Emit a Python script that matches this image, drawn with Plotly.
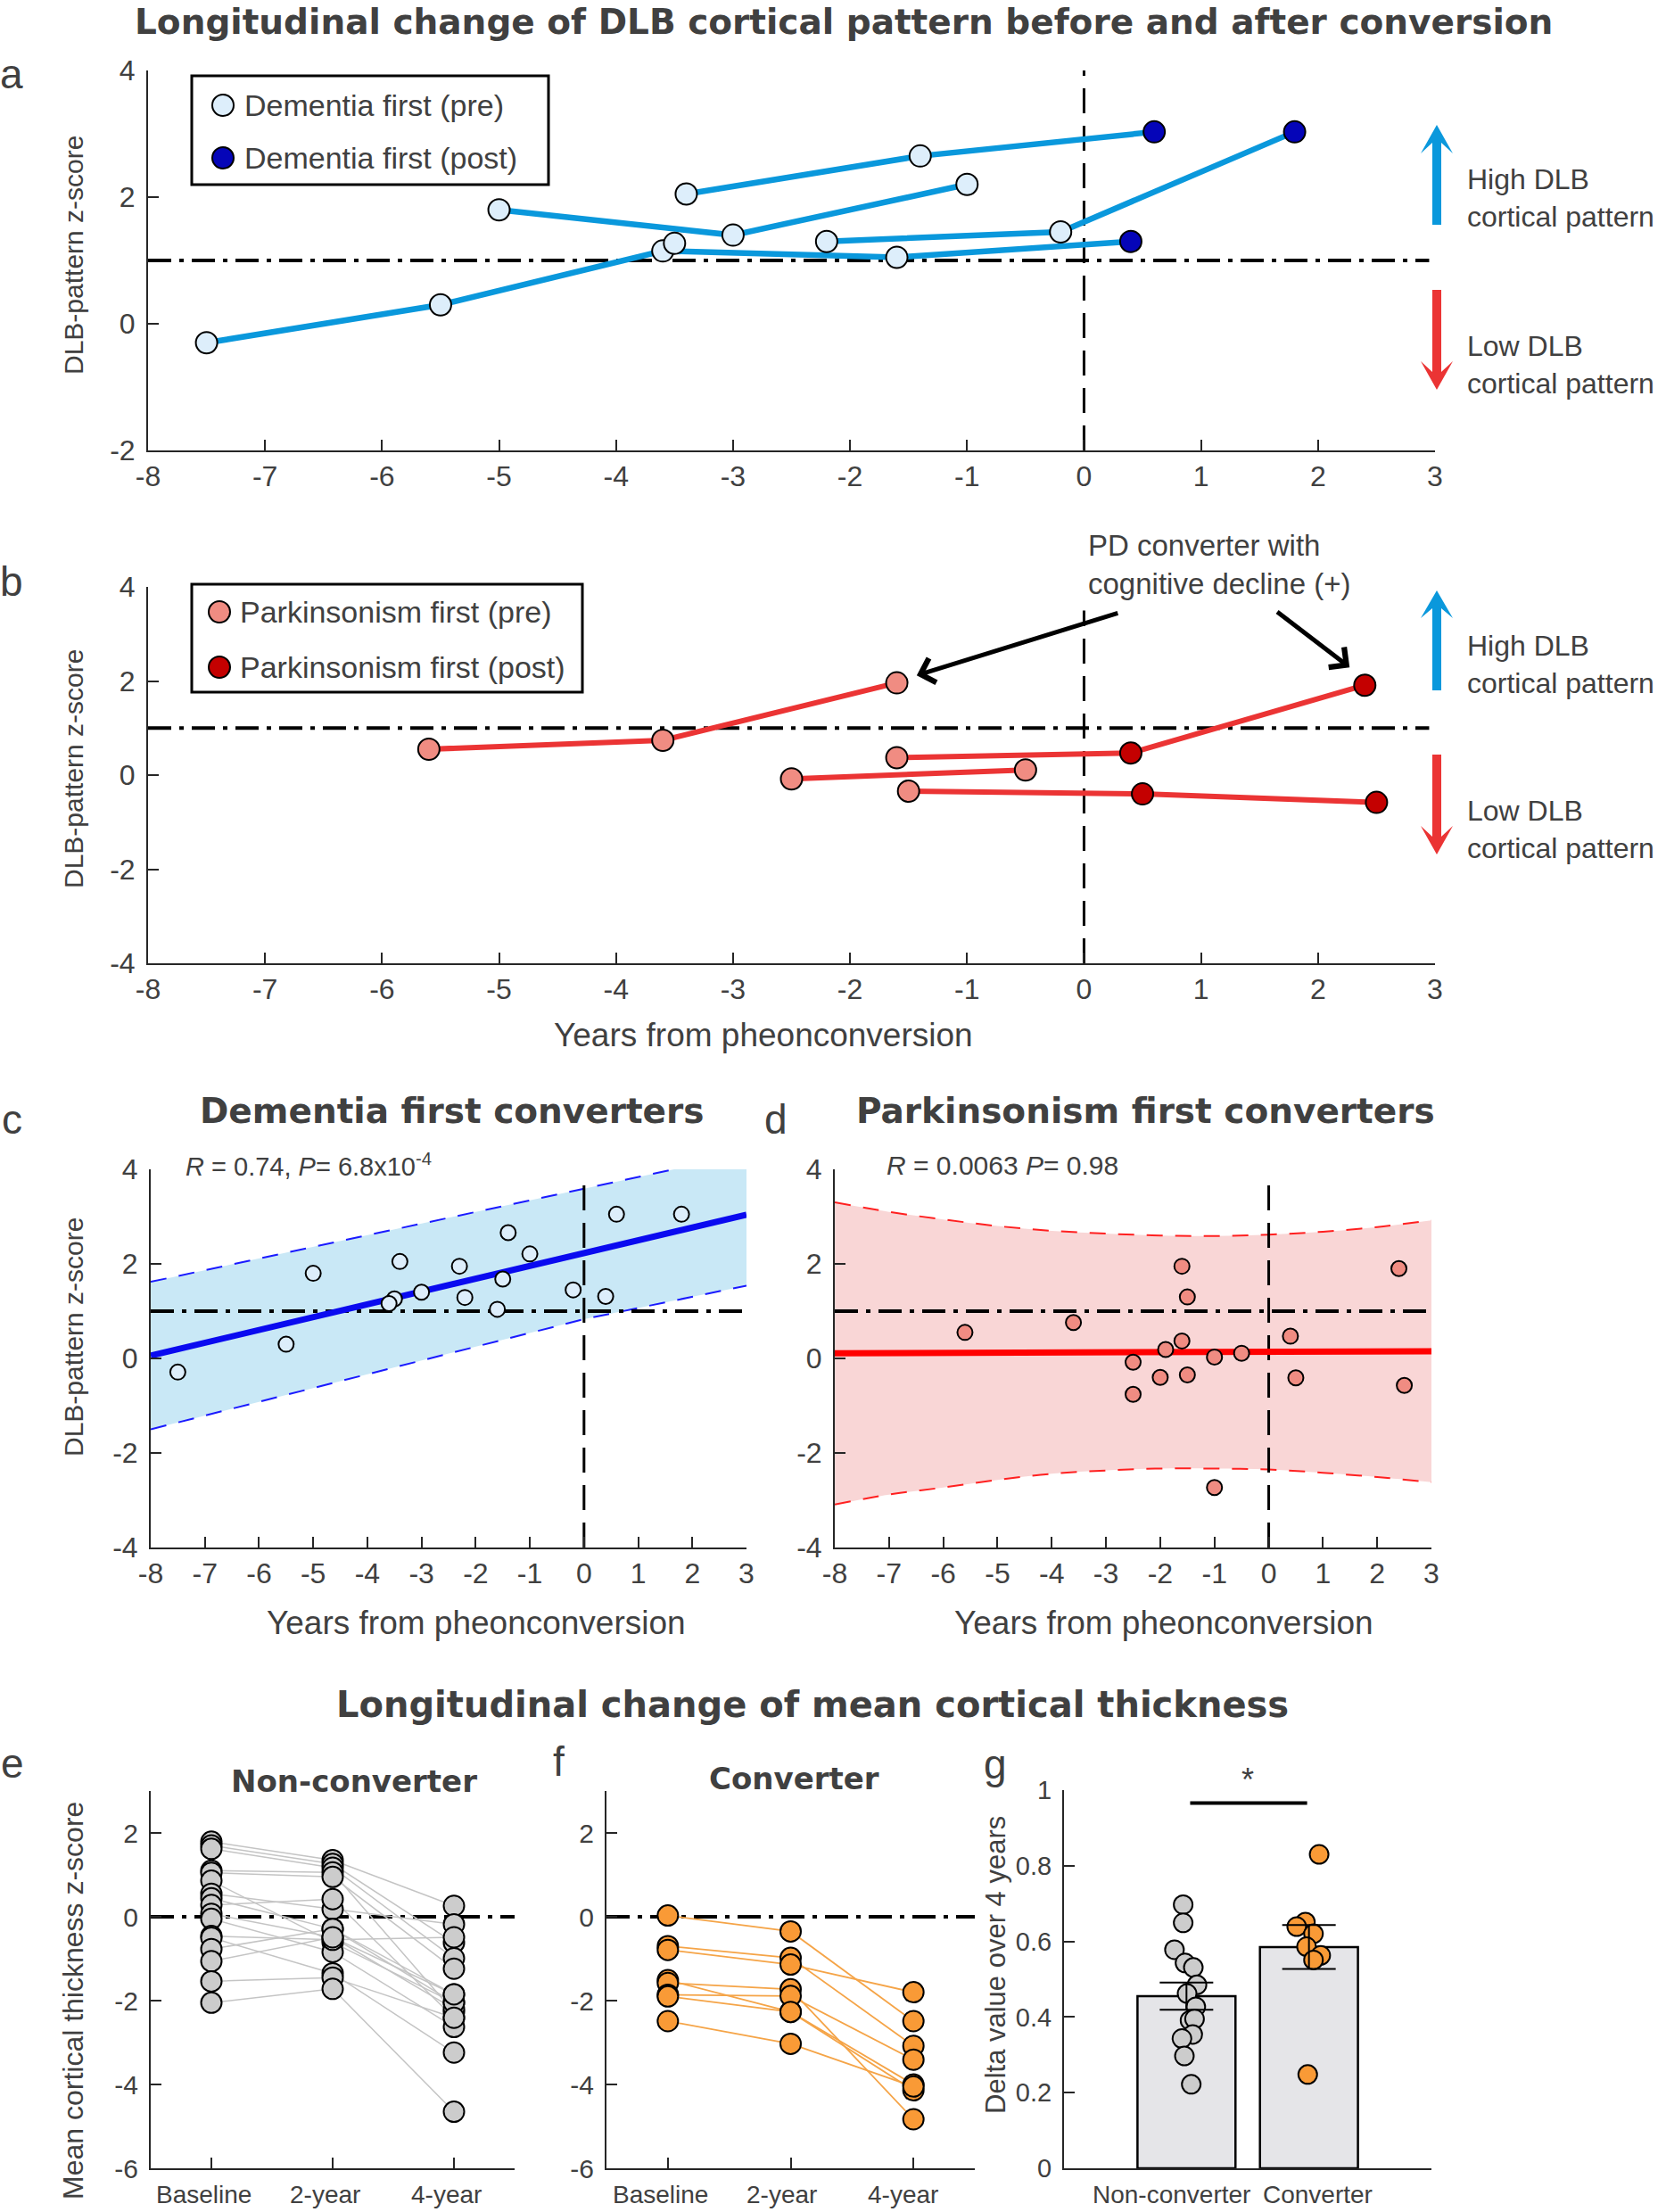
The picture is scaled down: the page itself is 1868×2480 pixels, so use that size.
import plotly.graph_objects as go

# ======================= DATA =======================
# Panel a - Dementia-first converters: trajectories (years from conversion, DLB-pattern z-score)
a_traj_x = [[-7.5, -5.5, -3.6, -1.6, 0.4], [-3.4, -1.4, 0.6], [-5.0, -3.0, -1.0], [-2.2, -0.2, 1.8], [-3.5]]
a_traj_y = [[-0.30, 0.30, 1.15, 1.05, 1.30], [2.05, 2.65, 3.03], [1.80, 1.40, 2.20], [1.30, 1.45, 3.03], [1.27]]

# Panel b - Parkinsonism-first converters
b_traj_x = [[-5.6, -3.6, -1.6], [-1.6, 0.4, 2.4], [-2.5, -0.5], [-1.5, 0.5, 2.5]]
b_traj_y = [[0.55, 0.74, 1.96], [0.37, 0.47, 1.91], [-0.08, 0.11], [-0.34, -0.40, -0.58]]

# Panel c - scatter + fit
c_x = [-7.5, -5.5, -5.0, -3.5, -3.6, -3.4, -3.0, -2.3, -2.2, -1.6, -1.5, -1.4, -1.0, -0.2, 0.4, 0.6, 1.8]
c_y = [-0.29, 0.30, 1.80, 1.26, 1.16, 2.05, 1.40, 1.95, 1.29, 1.04, 1.68, 2.66, 2.21, 1.45, 1.31, 3.05, 3.05]
c_fit_x = [-8, 3]
c_fit_y = [0.06, 3.04]
c_band_x = [-8, -4, 0, 3]
c_band_hi = [1.62, 2.60, 3.59, 4.33]
c_band_lo = [-1.50, -0.33, 0.83, 1.54]

# Panel d - scatter + fit
d_x = [-5.6, -3.6, -1.6, -1.5, -1.6, -1.9, -2.5, -2.5, -2.0, -1.5, -1.0, -0.5, -1.0, 0.4, 0.5, 2.4, 2.5]
d_y = [0.55, 0.76, 1.95, 1.30, 0.37, 0.19, -0.08, -0.76, -0.40, -0.35, 0.03, 0.11, -2.73, 0.47, -0.41, 1.90, -0.57]
d_fit_x = [-8, 3]
d_fit_y = [0.11, 0.15]
d_band_x = [-8, -7, -6, -5, -4, -3, -2, -1, 0, 1, 2, 3]
d_band_hi = [3.30, 3.10, 2.94, 2.80, 2.70, 2.64, 2.60, 2.59, 2.62, 2.68, 2.78, 2.92]
d_band_lo = [-3.09, -2.88, -2.73, -2.57, -2.44, -2.37, -2.33, -2.33, -2.35, -2.42, -2.51, -2.62]

threshold = 1.0  # DLB-pattern cut-off

# Panel e / f - mean cortical thickness z-score
timepoints = ["Baseline", "2-year", "4-year"]
e_base = [1.79, 1.70, 1.62, 1.10, 1.05, 0.86, 0.55, 0.44, 0.28, 0.07, -0.05, -0.46, -0.50, -0.77, -1.06, -1.54, -2.05]
e_2yr = [1.35, 1.26, 1.17, 1.06, 0.95, -0.61, 0.18, -0.29, 0.42, -0.49, -0.84, -0.55, -1.35, -0.29, -0.49, -1.45, -1.72]
e_4yr = [0.26, -0.62, -0.99, -2.27, -1.24, -2.05, -0.18, -1.85, -2.41, -2.20, -2.63, -0.49, -3.24, -2.05, -1.85, -2.41, -4.65]

f_base = [0.03, -0.70, -0.79, -1.51, -1.58, -1.86, -1.90, -2.49]
f_2yr = [-0.35, -0.98, -1.14, -2.27, -1.73, -1.89, -2.27, -3.03]
f_4yr = [-2.49, -3.08, -1.80, -4.00, -4.83, -3.41, -4.14, -4.05]

# Panel g - delta over 4 years
g_groups = ["Non-converter", "Converter"]
g_means = [0.455, 0.585]
g_sem = [0.036, 0.058]
g_nc_vals = [0.697, 0.649, 0.578, 0.543, 0.531, 0.485, 0.462, 0.427, 0.391, 0.395, 0.354, 0.343, 0.297, 0.222]
g_nc_jit = [-0.027, -0.027, -0.098, -0.012, 0.056, 0.086, 0.005, 0.076, 0.029, 0.066, 0.051, -0.037, -0.017, 0.039]
g_c_vals = [0.830, 0.651, 0.639, 0.620, 0.586, 0.563, 0.551, 0.248]
g_c_jit = [0.083, -0.029, -0.100, 0.037, -0.020, 0.096, 0.037, -0.010]
g_sig_y = 0.966

# ======================= STYLE =======================
W, H = 1868, 2480
FONT = "Liberation Sans"
BFONT = "DejaVu Sans"
TXT = "#404040"
AXC = "#262626"

DEM_LINE = "#0A98DC"
DEM_PRE = "#DDEEFB"
DEM_POST = "#0505B8"
PK_LINE = "#EB3434"
PK_PRE = "#F08C82"
PK_POST = "#C40000"
NC_GRAY = "#CCCCCC"
CONV_OR = "#F99A36"


def fx(px):
    return px / W


def fy(py):
    return 1 - py / H


fig = go.Figure()


def ax_common(size):
    return dict(showline=True, linecolor=AXC, linewidth=2, ticks="inside", ticklen=12,
                tickwidth=2, tickcolor=AXC, showgrid=False, zeroline=False, mirror=False,
                automargin=False, fixedrange=True,
                tickfont=dict(family=FONT, size=size, color=TXT))


yr_ticks = [-8, -7, -6, -5, -4, -3, -2, -1, 0, 1, 2, 3]
panels = {
    1: dict(xp=(166, 1609), yp=(79, 505), xr=[-8, 3], yr=[-2, 4], xt=yr_ticks, yt=[-2, 0, 2, 4], fs=32),
    2: dict(xp=(166, 1609), yp=(658, 1080), xr=[-8, 3], yr=[-4, 4], xt=yr_ticks, yt=[-4, -2, 0, 2, 4], fs=32),
    3: dict(xp=(169, 837), yp=(1311, 1735), xr=[-8, 3], yr=[-4, 4], xt=yr_ticks, yt=[-4, -2, 0, 2, 4], fs=32),
    4: dict(xp=(936, 1605), yp=(1311, 1735), xr=[-8, 3], yr=[-4, 4], xt=yr_ticks, yt=[-4, -2, 0, 2, 4], fs=32),
    5: dict(xp=(169, 577), yp=(2008, 2431), xr=[0.5, 3.5], yr=[-6, 3], xt=[1, 2, 3], yt=[-6, -4, -2, 0, 2], fs=30,
            xlab=timepoints),
    6: dict(xp=(680, 1093), yp=(2008, 2431), xr=[0.5, 3.5], yr=[-6, 3], xt=[1, 2, 3], yt=[-6, -4, -2, 0, 2], fs=30,
            xlab=timepoints),
    7: dict(xp=(1193, 1605), yp=(2007, 2431), xr=[0, 3], yr=[0, 1], xt=[1, 2], yt=[0, 0.2, 0.4, 0.6, 0.8, 1], fs=29,
            xlab=g_groups, ytt=["0", "0.2", "0.4", "0.6", "0.8", "1"]),
}

layout_axes = {}
for i, p in panels.items():
    xn = "xaxis" if i == 1 else f"xaxis{i}"
    yn = "yaxis" if i == 1 else f"yaxis{i}"
    xa = ax_common(p["fs"])
    xa.update(domain=[fx(p["xp"][0]), fx(p["xp"][1])], range=p["xr"], anchor="y" if i == 1 else f"y{i}",
              tickmode="array", tickvals=p["xt"], ticktext=[str(v) for v in p["xt"]],
              ticklabelstandoff=0, tickangle=0)
    if "xlab" in p:
        xa.update(showticklabels=False)
    ya = ax_common(p["fs"])
    ya.update(domain=[fy(p["yp"][1]), fy(p["yp"][0])], range=p["yr"], anchor="x" if i == 1 else f"x{i}",
              tickmode="array", tickvals=p["yt"], ticktext=p.get("ytt", [str(v) for v in p["yt"]]),
              ticklabelstandoff=6)
    if i == 7:
        xa.update(ticks="")
    layout_axes[xn] = xa
    layout_axes[yn] = ya


def ref(i):
    return ("x" if i == 1 else f"x{i}", "y" if i == 1 else f"y{i}")


DASHDOT = "26px,9px,5px,9px"
VDASH = "28px,14px"


def hline(i, y, x0, x1):
    xr, yr = ref(i)
    fig.add_trace(go.Scatter(x=[x0, x1], y=[y, y], mode="lines", xaxis=xr, yaxis=yr,
                             line=dict(color="black", width=4, dash=DASHDOT), hoverinfo="skip"))


def vline(i, x, y0, y1):
    xr, yr = ref(i)
    fig.add_trace(go.Scatter(x=[x, x], y=[y0, y1], mode="lines", xaxis=xr, yaxis=yr,
                             line=dict(color="black", width=3, dash=VDASH), hoverinfo="skip"))


# ---------------- Panel a ----------------
hline(1, threshold, -8, 2.95)
vline(1, 0, -2, 4)
for tx, ty in zip(a_traj_x, a_traj_y):
    fig.add_trace(go.Scatter(x=tx, y=ty, mode="lines", line=dict(color=DEM_LINE, width=6.5),
                             xaxis="x", yaxis="y", hoverinfo="skip"))
a_all = [(x, y) for tx, ty in zip(a_traj_x, a_traj_y) for x, y in zip(tx, ty)]
fig.add_trace(go.Scatter(x=[p[0] for p in a_all if p[0] < 0], y=[p[1] for p in a_all if p[0] < 0],
                         mode="markers", xaxis="x", yaxis="y",
                         marker=dict(size=24, color=DEM_PRE, line=dict(color="black", width=2))))
fig.add_trace(go.Scatter(x=[p[0] for p in a_all if p[0] >= 0], y=[p[1] for p in a_all if p[0] >= 0],
                         mode="markers", xaxis="x", yaxis="y",
                         marker=dict(size=24, color=DEM_POST, line=dict(color="black", width=2))))

# ---------------- Panel b ----------------
hline(2, threshold, -8, 2.95)
vline(2, 0, -4, 3.5)
for tx, ty in zip(b_traj_x, b_traj_y):
    fig.add_trace(go.Scatter(x=tx, y=ty, mode="lines", line=dict(color=PK_LINE, width=6),
                             xaxis="x2", yaxis="y2", hoverinfo="skip"))
b_all = [(x, y) for tx, ty in zip(b_traj_x, b_traj_y) for x, y in zip(tx, ty)]
fig.add_trace(go.Scatter(x=[p[0] for p in b_all if p[0] < 0], y=[p[1] for p in b_all if p[0] < 0],
                         mode="markers", xaxis="x2", yaxis="y2",
                         marker=dict(size=24, color=PK_PRE, line=dict(color="black", width=2))))
fig.add_trace(go.Scatter(x=[p[0] for p in b_all if p[0] >= 0], y=[p[1] for p in b_all if p[0] >= 0],
                         mode="markers", xaxis="x2", yaxis="y2",
                         marker=dict(size=24, color=PK_POST, line=dict(color="black", width=2))))

# ---------------- Panel c ----------------
fig.add_trace(go.Scatter(x=c_band_x, y=c_band_lo, mode="lines", xaxis="x3", yaxis="y3",
                         line=dict(color="#1a1aff", width=2, dash="18px,14px"), hoverinfo="skip"))
fig.add_trace(go.Scatter(x=c_band_x, y=c_band_hi, mode="lines", xaxis="x3", yaxis="y3", fill="tonexty",
                         fillcolor="#C9E8F6", line=dict(color="#1a1aff", width=2, dash="18px,14px"),
                         hoverinfo="skip"))
hline(3, threshold, -8, 2.95)
vline(3, 0, -4, 3.8)
fig.add_trace(go.Scatter(x=c_fit_x, y=c_fit_y, mode="lines", xaxis="x3", yaxis="y3",
                         line=dict(color="#0A0AF0", width=7), hoverinfo="skip"))
fig.add_trace(go.Scatter(x=c_x, y=c_y, mode="markers", xaxis="x3", yaxis="y3",
                         marker=dict(size=17, color=DEM_PRE, line=dict(color="black", width=2))))

# ---------------- Panel d ----------------
fig.add_trace(go.Scatter(x=d_band_x, y=d_band_lo, mode="lines", xaxis="x4", yaxis="y4",
                         line=dict(color="#FF2020", width=2, dash="18px,14px"), hoverinfo="skip",
                         line_shape="spline"))
fig.add_trace(go.Scatter(x=d_band_x, y=d_band_hi, mode="lines", xaxis="x4", yaxis="y4", fill="tonexty",
                         fillcolor="#F9D6D6", line=dict(color="#FF2020", width=2, dash="18px,14px"),
                         hoverinfo="skip", line_shape="spline"))
hline(4, threshold, -8, 2.95)
vline(4, 0, -4, 3.7)
fig.add_trace(go.Scatter(x=d_fit_x, y=d_fit_y, mode="lines", xaxis="x4", yaxis="y4",
                         line=dict(color="#FF0000", width=7), hoverinfo="skip"))
fig.add_trace(go.Scatter(x=d_x, y=d_y, mode="markers", xaxis="x4", yaxis="y4",
                         marker=dict(size=17, color=PK_PRE, line=dict(color="black", width=2))))


# ---------------- Panel e / f ----------------
def paired(i, base, y2, y4, line_col, fill_col, lw):
    xr, yr = ref(i)
    hline(i, 0, 0.5, 3.5)
    for a, b, c in zip(base, y2, y4):
        fig.add_trace(go.Scatter(x=[1, 2, 3], y=[a, b, c], mode="lines", xaxis=xr, yaxis=yr,
                                 line=dict(color=line_col, width=lw), hoverinfo="skip"))
    for k, vals in enumerate([base, y2, y4]):
        fig.add_trace(go.Scatter(x=[k + 1] * len(vals), y=vals, mode="markers", xaxis=xr, yaxis=yr,
                                 marker=dict(size=23, color=fill_col, line=dict(color="black", width=2))))


paired(5, e_base, e_2yr, e_4yr, "#C4C4C4", NC_GRAY, 1.5)
paired(6, f_base, f_2yr, f_4yr, "#F5A447", CONV_OR, 1.8)

# ---------------- Panel g ----------------
fig.add_trace(go.Bar(x=[1, 2], y=g_means, width=0.8, xaxis="x7", yaxis="y7",
                     marker=dict(color="#E5E5E8", line=dict(color="black", width=2.5))))
fig.add_trace(go.Scatter(x=[1 + j for j in g_nc_jit], y=g_nc_vals, mode="markers", xaxis="x7", yaxis="y7",
                         marker=dict(size=21, color=NC_GRAY, line=dict(color="black", width=2))))
fig.add_trace(go.Scatter(x=[2 + j for j in g_c_jit], y=g_c_vals, mode="markers", xaxis="x7", yaxis="y7",
                         marker=dict(size=21, color=CONV_OR, line=dict(color="black", width=2))))
fig.add_trace(go.Scatter(x=[1, 2], y=g_means, mode="markers", xaxis="x7", yaxis="y7",
                         marker=dict(size=1, opacity=0),
                         error_y=dict(type="data", array=g_sem, color="black", thickness=2, width=30)))
fig.add_trace(go.Scatter(x=[1.03, 1.985], y=[g_sig_y, g_sig_y], mode="lines", xaxis="x7", yaxis="y7",
                         line=dict(color="black", width=4), hoverinfo="skip"))

# ======================= ANNOTATIONS / SHAPES =======================
ann = []
shapes = []


def text(x, y, s, size=30, xanchor="center", yanchor="middle", bold=False, align="center"):
    ann.append(dict(x=fx(x), y=fy(y), xref="paper", yref="paper", text=f"<b>{s}</b>" if bold else s,
                    showarrow=False, xanchor=xanchor, yanchor=yanchor, align=align,
                    font=dict(family=BFONT if bold else FONT, size=size, color=TXT)))


# titles
text(946, 0, "Longitudinal change of DLB cortical pattern before and after conversion", 39, bold=True,
     yanchor="top")
text(506, 1245, "Dementia first converters", 39, bold=True)
text(1284, 1245, "Parkinsonism first converters", 39, bold=True)
text(911, 1911, "Longitudinal change of mean cortical thickness", 40, bold=True)
text(397, 1997, "Non-converter", 34, bold=True)
text(890, 1994, "Converter", 34, bold=True)

# panel letters
for s, x, y in [("a", 13, 83), ("b", 13, 652), ("c", 13, 1255), ("d", 870, 1255),
                ("e", 14, 1977), ("f", 626, 1975), ("g", 1116, 1978)]:
    text(x, y, s, 46)

# axis titles (rotated)
for s, x, y, sz in [("DLB-pattern z-score", 82, 286, 30), ("DLB-pattern z-score", 82, 862, 30),
                    ("DLB-pattern z-score", 82, 1499, 30), ("Mean cortical thickness z-score", 82, 2243, 32),
                    ("Delta value over 4 years", 1116, 2203, 31)]:
    ann.append(dict(x=fx(x), y=fy(y), xref="paper", yref="paper", text=s, showarrow=False, textangle=-90,
                    xanchor="center", yanchor="middle", font=dict(family=FONT, size=sz, color=TXT)))
for x, y in [(856, 1160), (534, 1819), (1305, 1819)]:
    text(x, y, "Years from pheonconversion", 37)

# category labels of panels e, f, g
for s, x in zip(timepoints, [228, 364, 500]):
    text(x, 2460, s, 28)
for s, x in zip(timepoints, [740, 876, 1012]):
    text(x, 2460, s, 28)
for s, x in zip(g_groups, [1313, 1477]):
    text(x, 2460, s, 28)

# stats
text(206, 1306, "<i>R</i> = 0.74, <i>P</i>= 6.8x10<sup>-4</sup>", 29, xanchor="left")
text(992, 1306, "<i>R</i> = 0.0063 <i>P</i>= 0.98", 30, xanchor="left")
ann.append(dict(x=1.5, y=0.975, xref="x7", yref="y7", text="*", showarrow=False, yanchor="bottom",
                font=dict(family=FONT, size=36, color=TXT)))

# High/Low annotations
text(1643, 222, "High DLB<br>cortical pattern", 32, xanchor="left", align="left")
text(1643, 409, "Low DLB<br>cortical pattern", 32, xanchor="left", align="left")
text(1643, 745, "High DLB<br>cortical pattern", 32, xanchor="left", align="left")
text(1643, 930, "Low DLB<br>cortical pattern", 32, xanchor="left", align="left")
text(1218, 633, "PD converter with<br>cognitive decline (+)", 33, xanchor="left", align="left")

# black pointer arrows in panel b (data coords of axis 2)
for hx, hy, tx, ty in [(-1.43, 2.12, 0.30, 3.45), (2.27, 2.29, 1.64, 3.49)]:
    ann.append(dict(x=hx, y=hy, ax=tx, ay=ty, xref="x2", yref="y2", axref="x2", ayref="y2", text="",
                    showarrow=True, arrowhead=4, arrowsize=1.1, arrowwidth=5, arrowcolor="black"))


def block_arrow(cx, tip, notch, side, tail, color, hw=18, sw=5):
    pts = [(cx, tip), (cx + hw, side), (cx + sw, notch), (cx + sw, tail), (cx - sw, tail),
           (cx - sw, notch), (cx - hw, side)]
    path = "M " + " L ".join(f"{fx(a):.5f},{fy(b):.5f}" for a, b in pts) + " Z"
    shapes.append(dict(type="path", path=path, xref="paper", yref="paper", fillcolor=color,
                       line=dict(width=0)))


block_arrow(1611, 140, 160, 172, 252, DEM_LINE)
block_arrow(1611, 437, 417, 405, 325, PK_LINE)
block_arrow(1611, 662, 682, 693, 774, DEM_LINE)
block_arrow(1611, 958, 938, 926, 846, PK_LINE)


# manual legends
def legend_box(x0, x1, y0, y1, entries, mx, tx):
    shapes.append(dict(type="rect", xref="paper", yref="paper", x0=fx(x0), x1=fx(x1), y0=fy(y1), y1=fy(y0),
                       line=dict(color="black", width=3), fillcolor="white", layer="above"))
    for label, col, yy in entries:
        shapes.append(dict(type="circle", xref="paper", yref="paper", x0=fx(mx - 12), x1=fx(mx + 12),
                           y0=fy(yy + 12), y1=fy(yy - 12), fillcolor=col, line=dict(color="black", width=2),
                           layer="above"))
        text(tx, yy, label, 34, xanchor="left")


legend_box(215, 615, 85, 207, [("Dementia first (pre)", DEM_PRE, 118), ("Dementia first (post)", DEM_POST, 177)],
           250, 272)
legend_box(215, 653, 655, 776, [("Parkinsonism first (pre)", PK_PRE, 686),
                                ("Parkinsonism first (post)", PK_POST, 748)], 246, 267)

fig.update_layout(width=W, height=H, margin=dict(l=0, r=0, t=0, b=0), paper_bgcolor="white",
                  plot_bgcolor="white", showlegend=False, annotations=ann, shapes=shapes, **layout_axes)

fig.write_html("out.html", config={"displayModeBar": False},
               post_script="document.body.style.margin='0px';")
